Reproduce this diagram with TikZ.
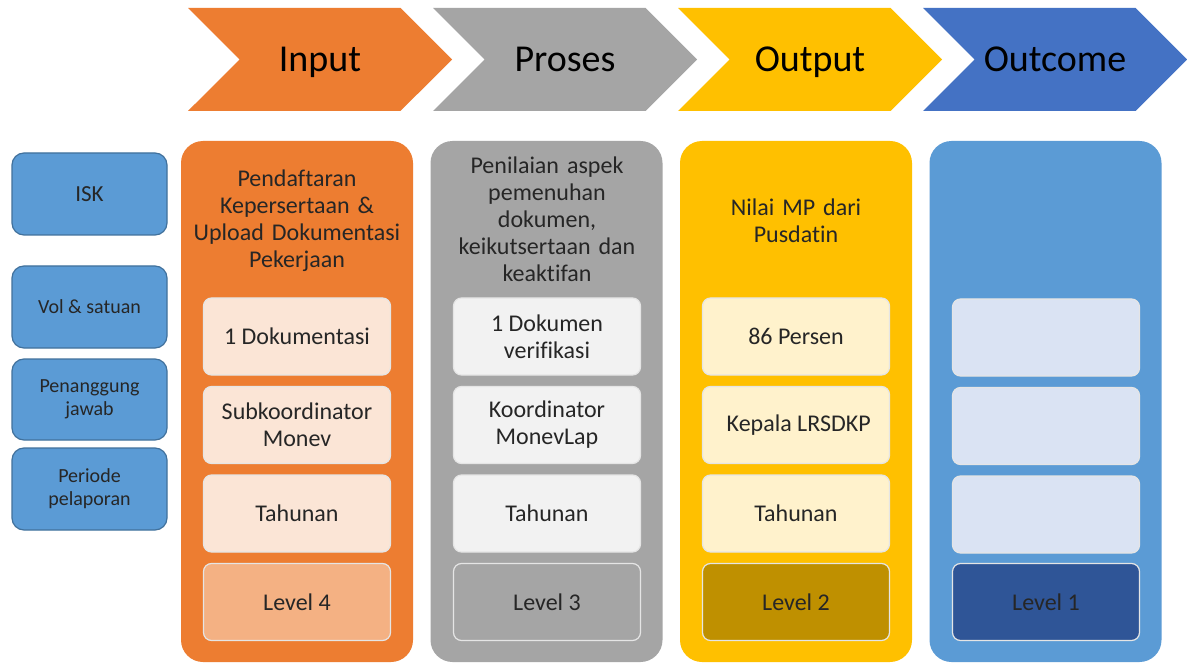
\documentclass[tikz,border=0pt]{standalone}
\usepackage{xcolor}
\usepackage{fontspec}
\setmainfont[Ligatures=NoCommon]{Carlito}
\usepackage{tikz}
\usetikzlibrary{shapes.symbols}
\definecolor{orangeC}{HTML}{ED7D31}
\definecolor{grayC}{HTML}{A5A5A5}
\definecolor{yellowC}{HTML}{FFC000}
\definecolor{blueH}{HTML}{4472C4}
\definecolor{blueC}{HTML}{5B9BD5}
\definecolor{blueB}{HTML}{41719C}
\definecolor{orangeL}{HTML}{FBE5D6}
\definecolor{orangeD}{HTML}{F4B183}
\definecolor{grayL}{HTML}{F2F2F2}
\definecolor{yellowL}{HTML}{FFF2CC}
\definecolor{yellowD}{HTML}{BF9000}
\definecolor{blueL}{HTML}{DAE3F3}
\definecolor{blueD}{HTML}{2F5597}
\tikzstyle{stage} = [signal, signal from=west, signal to=east, signal pointer angle=90, minimum width=264pt, minimum height=103pt, inner sep=0pt, text height=25pt, text depth=0pt, text=black, font=\fontsize{38}{44}\selectfont]
\tikzstyle{lane}  = [rectangle, rounded corners=22pt, minimum width=232pt, minimum height=521pt]
\tikzstyle{title} = [align=center, text width=230pt, text=black!85, font=\fontsize{24}{27}\selectfont]
\tikzstyle{cell}  = [rectangle, rounded corners=8pt, minimum width=187pt, minimum height=77pt, draw=white!90!black, line width=1.2pt, align=center, text=black!85, font=\fontsize{24}{27}\selectfont]
\tikzstyle{side}  = [rectangle, rounded corners=12pt, minimum width=155pt, fill=blueC, draw=blueB, line width=1.2pt, align=center, text=black!85, font=\fontsize{20}{23}\selectfont]

\begin{document}
\begin{tikzpicture}[x=1pt, y=-1pt, node distance=88.5pt]
    \useasboundingbox (0,0) rectangle (1187,663);
    \fill [white] (0,0) rectangle (1187,663);

    % row labels
    \node (isk)  [side, minimum height=82pt, font=\fontsize{23}{26}\selectfont] at (89.5,194) {ISK};
    \node (vol)  [side, minimum height=82pt] at (89.5,307) {Vol \& satuan};
    \node (pj)   [side, minimum height=81pt] at (89.5,399.5) {Penanggung\\jawab};
    \node (per)  [side, minimum height=82pt] at (89.5,489) {Periode\\pelaporan};

    % chevrons
    \node (input)   [stage, fill=orangeC] at (320,59.5) {Input};
    \node (proses)  [stage, fill=grayC,   right of=input,  xshift=156.5pt] {Proses};
    \node (output)  [stage, fill=yellowC, right of=proses, xshift=156.5pt] {Output};
    \node (outcome) [stage, fill=blueH,   right of=output, xshift=156.5pt] {Outcome};

    % lanes
    \node (lanein)  [lane, fill=orangeC] at (297,401.5) {};
    \node (lanepr)  [lane, fill=grayC,   right of=lanein, xshift=161pt] {};
    \node (laneout) [lane, fill=yellowC, right of=lanepr, xshift=161pt] {};
    \node (laneoc)  [lane, fill=blueC,   right of=laneout, xshift=161pt] {};

    % lane titles
    \node (tin)  [title] at (297,221) {Pendaftaran\\Kepersertaan \&\\Upload Dokumentasi\\Pekerjaan};
    \node (tpr)  [title] at (547,219) {Penilaian aspek\\pemenuhan\\dokumen,\\keikutsertaan dan\\keaktifan};
    \node (tout) [title] at (796,221) {Nilai MP dari\\Pusdatin};

    % input cells
    \node (in1) [cell, fill=orangeL] at (297,336.5) {1 Dokumentasi};
    \node (in2) [cell, fill=orangeL, below of=in1] {Subkoordinator\\Monev};
    \node (in3) [cell, fill=orangeL, below of=in2] {Tahunan};
    \node (in4) [cell, fill=orangeD, below of=in3] {Level 4};

    % proses cells
    \node (pr1) [cell, fill=grayL] at (547,336.5) {1 Dokumen\\verifikasi};
    \node (pr2) [cell, fill=grayL, below of=pr1] {Koordinator\\MonevLap};
    \node (pr3) [cell, fill=grayL, below of=pr2] {Tahunan};
    \node (pr4) [cell, fill=grayC, below of=pr3] {Level 3};

    % output cells
    \node (out1) [cell, fill=yellowL] at (796,336.5) {86 Persen};
    \node (out2) [cell, fill=yellowL, below of=out1] {\ Kepala LRSDKP};
    \node (out3) [cell, fill=yellowL, below of=out2] {Tahunan};
    \node (out4) [cell, fill=yellowD, below of=out3] {Level 2};

    % outcome cells
    \node (oc1) [cell, fill=blueL] at (1046,337.5) {};
    \node (oc2) [cell, fill=blueL, below of=oc1] {};
    \node (oc3) [cell, fill=blueL, below of=oc2] {};
    \node (oc4) [cell, fill=blueD, below of=oc3, yshift=1pt] {Level 1};

  \end{tikzpicture}
\end{document}
